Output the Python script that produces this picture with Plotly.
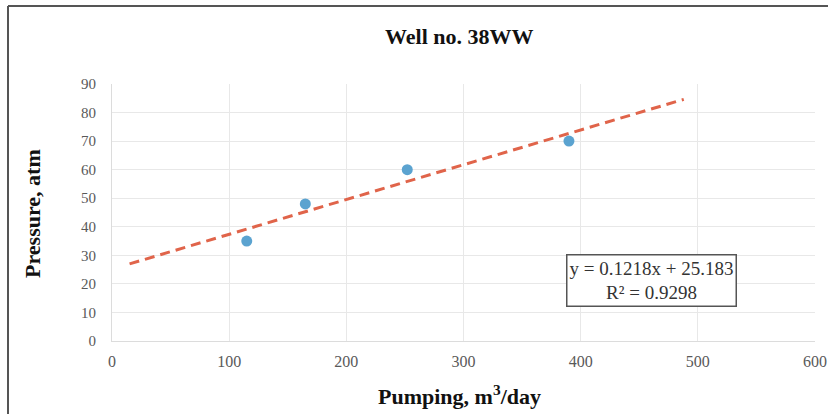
import plotly.graph_objects as go

pumping = [115, 165, 252, 390]
pressure = [35, 48, 60, 70]
slope = 0.1218
intercept = 25.183
r2 = 0.9298
trend_x = [15, 488]
trend_y = [slope * v + intercept for v in trend_x]

W, H = 828, 414
L, R, T, B = 112, 13, 84, 73
pw, ph = W - L - R, H - T - B

def px(xp):
    return (xp - L) / pw

def py(yp):
    return (H - B - yp) / ph

SERIF = "Liberation Serif, Times New Roman, serif"

fig = go.Figure()
fig.add_trace(go.Scatter(x=trend_x, y=trend_y, mode="lines",
                         line=dict(color="#e0644a", width=3, dash="10px,6px"),
                         hoverinfo="skip", showlegend=False))
fig.add_trace(go.Scatter(x=pumping, y=pressure, mode="markers",
                         marker=dict(color="#5ba3d0", size=11),
                         showlegend=False))

fig.update_layout(
    width=W, height=H,
    margin=dict(l=L, r=R, t=T, b=B, autoexpand=False),
    paper_bgcolor="white", plot_bgcolor="white",
    font=dict(family=SERIF, color="#595959", size=15),
    showlegend=False,
)
fig.update_xaxes(range=[0, 600], tickvals=[0, 100, 200, 300, 400, 500, 600],
                 automargin=False,
                 showgrid=True, gridcolor="#e8e8e8", gridwidth=1,
                 zeroline=False, showline=True, linecolor="#dcdcdc",
                 ticks="", ticklabelstandoff=6, tickfont=dict(size=16, color="#595959"))
fig.update_yaxes(range=[0, 90], tickvals=list(range(0, 91, 10)),
                 automargin=False,
                 showgrid=True, gridcolor="#e8e8e8", gridwidth=1,
                 zeroline=False, showline=True, linecolor="#dcdcdc",
                 ticks="", ticklabelstandoff=12, tickfont=dict(size=15, color="#595959"))

# title
fig.add_annotation(text="<b>Well no. 38WW</b>", xref="paper", yref="paper",
                   x=px(459), y=py(37), showarrow=False, xanchor="center", yanchor="middle",
                   font=dict(family=SERIF, size=22, color="#111111"))
# axis titles
fig.add_annotation(text="<b>Pumping, m<sup>3</sup>/day</b>", xref="paper", yref="paper",
                   x=px(459), y=py(395), showarrow=False, xanchor="center", yanchor="middle",
                   font=dict(family=SERIF, size=22, color="#111111"))
fig.add_annotation(text="<b>Pressure, atm</b>", xref="paper", yref="paper",
                   x=px(32), y=py(214), showarrow=False, xanchor="center", yanchor="middle",
                   textangle=-90, font=dict(family=SERIF, size=22, color="#111111"))

# equation box
fig.add_annotation(text=f"y = {slope}x + {intercept}<br>R² = {r2}",
                   xref="paper", yref="paper", x=px(651), y=py(280),
                   showarrow=False, xanchor="center", yanchor="middle", align="center",
                   font=dict(family=SERIF, size=19, color="#333333"),
                   bordercolor="#555555", borderwidth=1.5, borderpad=2, bgcolor="white")

# outer frame (left and top)
fig.add_shape(type="line", xref="paper", yref="paper", x0=px(8), x1=px(8), y0=py(6), y1=py(420),
              line=dict(color="#555555", width=2))
fig.add_shape(type="line", xref="paper", yref="paper", x0=px(8), x1=px(830), y0=py(6), y1=py(6),
              line=dict(color="#555555", width=2))

fig.write_html("out.html", config={"displayModeBar": False},
               post_script="document.body.style.margin='0';document.body.style.overflow='hidden';")
